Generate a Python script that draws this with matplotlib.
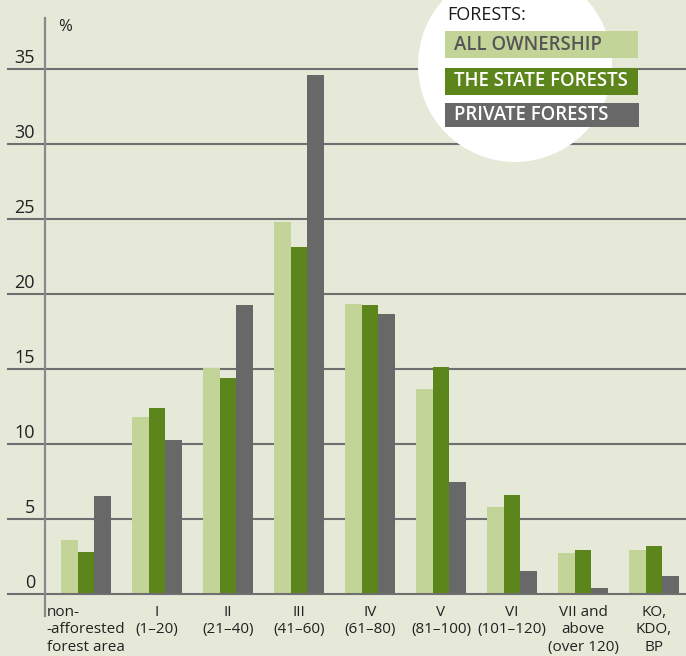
import matplotlib
matplotlib.use("Agg")
import matplotlib.pyplot as plt
import matplotlib.transforms as mtransforms
from matplotlib.patches import Circle, Rectangle
import numpy as np

plt.rcParams['font.family'] = ['Open Sans', 'DejaVu Sans']

categories = ["non-\n-afforested\nforest area", "I\n(1–20)", "II\n(21–40)", "III\n(41–60)",
              "IV\n(61–80)", "V\n(81–100)", "VI\n(101–120)", "VII and\nabove\n(over 120)",
              "KO,\nKDO,\nBP"]
all_ownership = [3.6, 11.8, 15.1, 24.8, 19.35, 13.7, 5.8, 2.75, 2.95]
state_forests = [2.8, 12.4, 14.4, 23.15, 19.3, 15.15, 6.6, 2.95, 3.2]
private_forests = [6.55, 10.3, 19.3, 34.6, 18.7, 7.5, 1.55, 0.4, 1.2]
series_names = ["ALL OWNERSHIP", "THE STATE FORESTS", "PRIVATE FORESTS"]
yticks = [0, 5, 10, 15, 20, 25, 30, 35]

BG = '#E6E9D8'
C_LIGHT = '#C3D498'
C_GREEN = '#5C851C'
C_GRAY = '#686868'
GRID = '#6F6F6F'

W, H = 686, 656
fig = plt.figure(figsize=(W / 100, H / 100), dpi=100, facecolor=BG)
ax_left, ax_right, ax_bottom, ax_top = 45, 686, 594, 18
ax = fig.add_axes([ax_left / W, 1 - ax_bottom / H, (ax_right - ax_left) / W, (ax_bottom - ax_top) / H])
ax.set_facecolor(BG)

x = np.arange(len(categories))
w = 0.238
ax.bar(x - w, all_ownership, w, color=C_LIGHT, zorder=2)
ax.bar(x, state_forests, w, color=C_GREEN, zorder=2)
ax.bar(x + w, private_forests, w, color=C_GRAY, zorder=2)

ax.set_xlim((45 - 86) / 71, (686 - 86) / 71)
ax.set_ylim(0, (594 - 18) / 15)

for s in ax.spines.values():
    s.set_visible(False)

xmin_ext = (8 - ax_left) / (ax_right - ax_left)
for v in yticks:
    ax.axhline(v, xmin=xmin_ext, xmax=1, clip_on=False, color=GRID, lw=1.5,
               zorder=3 if v == 0 else 1)

# left spine extended below baseline
ax.plot([0, 0], [(594 - 616) / (594 - 18), 1], transform=ax.transAxes, clip_on=False,
        color='#8A8A8A', lw=1.6, zorder=4)

ax.set_yticks([])
trans = mtransforms.blended_transform_factory(ax.transAxes, ax.transData)
trans = mtransforms.offset_copy(trans, fig=fig, x=0, y=6, units='dots')
for v in yticks:
    ax.text((35 - ax_left) / (ax_right - ax_left), v, str(v), transform=trans,
            ha='right', va='baseline', fontsize=13, color='#222222')

ax.set_xticks(x)
ax.set_xticklabels(categories, fontsize=11, color='#222222', linespacing=1.2,
                   multialignment='center')
for lbl in ax.get_xticklabels()[:1]:
    lbl.set_multialignment('left')
ax.tick_params(axis='x', length=0, pad=8)

fig.text(65 / W, 1 - 27 / H, '%', ha='center', va='center', fontsize=12, color='#222222')

# legend circle
circ = Circle((515 / 100, (H - 65) / 100), 0.97, transform=fig.dpi_scale_trans,
              facecolor='white', edgecolor='none', zorder=5)
fig.add_artist(circ)

fig.text(447 / W, 1 - 15 / H, 'FORESTS:', ha='left', va='center', fontsize=13,
         color='#1A1A1A', zorder=7)
boxes = [(31, 58, 638, C_LIGHT, '#555555'), (68, 95, 638, C_GREEN, 'white'),
         (103, 127, 639, C_GRAY, 'white')]
for (y0, y1, x1, fc, tc), name in zip(boxes, series_names):
    r = Rectangle((445 / W, 1 - y1 / H), (x1 - 445) / W, (y1 - y0) / H,
                  transform=fig.transFigure, facecolor=fc, edgecolor='none', zorder=6)
    fig.add_artist(r)
    fig.text(454 / W, 1 - (y0 + y1) / 2 / H, name, ha='left', va='center', fontsize=13.4,
             fontweight='semibold', color=tc, zorder=7)

fig.savefig('out.png', dpi=100, facecolor=BG)
